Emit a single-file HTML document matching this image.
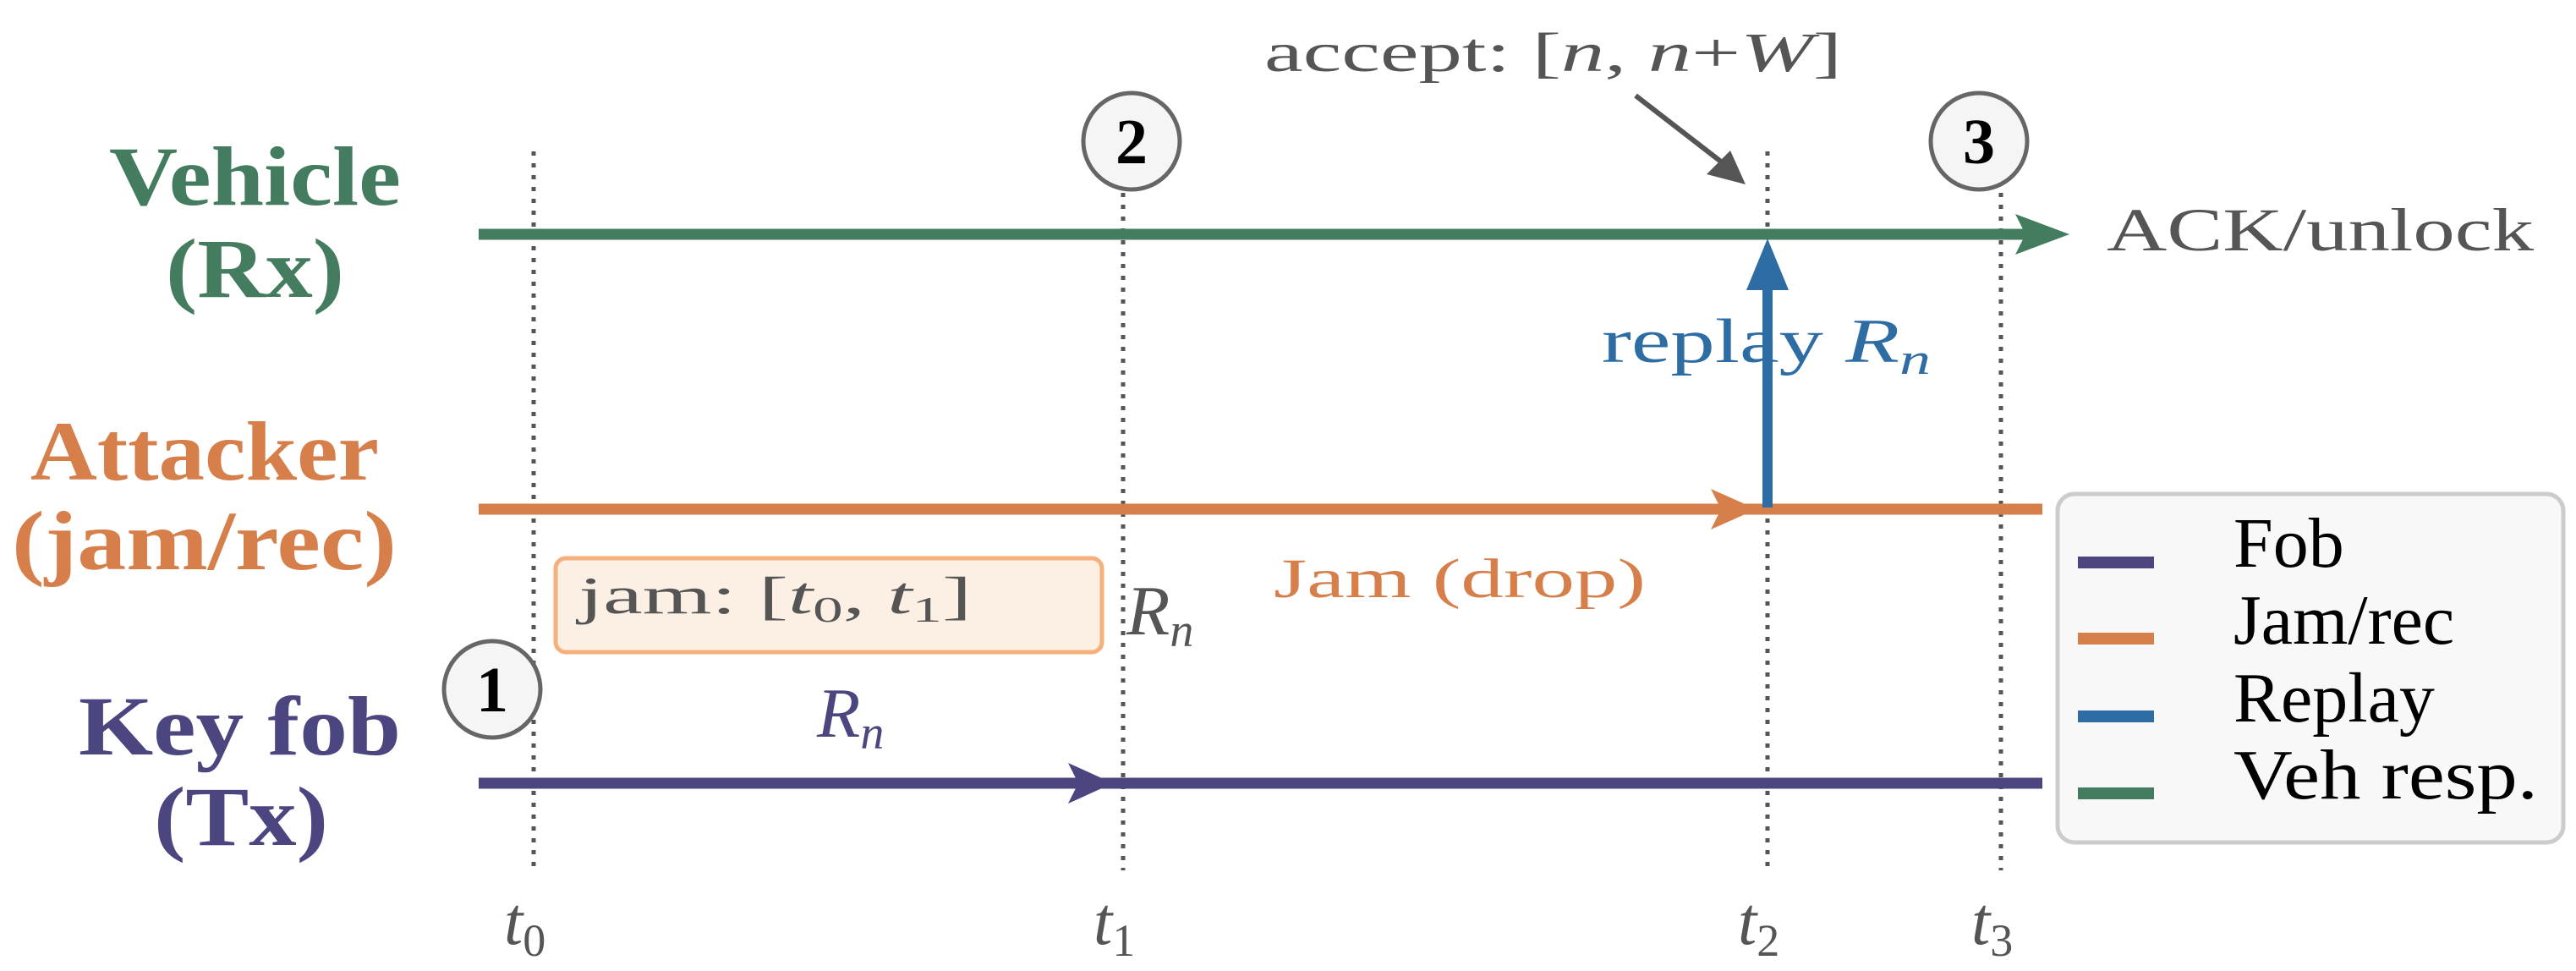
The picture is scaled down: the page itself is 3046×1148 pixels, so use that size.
<!DOCTYPE html>
<html><head><meta charset="utf-8"><style>
html,body{margin:0;padding:0;background:#fff;}
svg{display:block;}
text{font-family:"Liberation Serif",serif;}
</style></head><body>
<svg width="3046" height="1148" viewBox="0 0 3046 1148" xmlns="http://www.w3.org/2000/svg">
<g stroke="#555" stroke-width="5" stroke-dasharray="5 9">
<line x1="631" y1="179" x2="631" y2="1029"/>
<line x1="1328" y1="228" x2="1328" y2="1029"/>
<line x1="2090" y1="179" x2="2090" y2="1029"/>
<line x1="2366" y1="228" x2="2366" y2="1029"/>
</g>
<line x1="566" y1="277" x2="2395" y2="277" stroke="#437c5e" stroke-width="13"/>
<polygon points="2447,277 2383,253 2395,277 2383,301" fill="#437c5e"/>
<line x1="566" y1="602" x2="2415" y2="602" stroke="#d67f4a" stroke-width="13"/>
<polygon points="2077,602 2023,578 2035,602 2023,626" fill="#d67f4a"/>
<line x1="566" y1="926" x2="2415" y2="926" stroke="#4b4680" stroke-width="13"/>
<polygon points="1316,926 1263,902 1275,926 1263,950" fill="#4b4680"/>
<line x1="2090" y1="600" x2="2090" y2="335" stroke="#2e6da4" stroke-width="12"/>
<polygon points="2090,282 2065,343 2115,343" fill="#2e6da4"/>
<line x1="1934" y1="113" x2="2040" y2="195" stroke="#555" stroke-width="6"/>
<polygon points="2064,218 2018,206 2046,178" fill="#555"/>
<rect x="657" y="660" width="646" height="111" rx="12" fill="#fcf0e4" stroke="#f5b07c" stroke-width="5"/>
<text x="684" y="725" font-size="62" fill="#555" textLength="465" lengthAdjust="spacingAndGlyphs">jam: [<tspan font-style="italic">t</tspan><tspan font-size="42" dy="10">0</tspan><tspan dy="-10">, </tspan><tspan font-style="italic">t</tspan><tspan font-size="42" dy="10">1</tspan><tspan dy="-10">]</tspan></text>
<g stroke="#666" stroke-width="5" fill="#f5f5f5">
<circle cx="582" cy="815" r="57"/>
<circle cx="1338" cy="167" r="57"/>
<circle cx="2340" cy="167" r="57"/>
</g>
<g font-size="76" font-weight="bold" fill="#000" text-anchor="middle">
<text x="582" y="841">1</text>
<text x="1338" y="193">2</text>
<text x="2340" y="193">3</text>
</g>
<g font-size="100" font-weight="bold" lengthAdjust="spacingAndGlyphs">
<text x="129" y="242" fill="#437c5e" textLength="345" lengthAdjust="spacingAndGlyphs">Vehicle</text>
<text x="196" y="351" fill="#437c5e" textLength="211" lengthAdjust="spacingAndGlyphs">(Rx)</text>
<text x="36" y="567" fill="#d67f4a" textLength="412" lengthAdjust="spacingAndGlyphs">Attacker</text>
<text x="14" y="673" fill="#d67f4a" textLength="455" lengthAdjust="spacingAndGlyphs">(jam/rec)</text>
<text x="93" y="892" fill="#4b4680" textLength="381" lengthAdjust="spacingAndGlyphs">Key fob</text>
<text x="182" y="999" fill="#4b4680" textLength="206" lengthAdjust="spacingAndGlyphs">(Tx)</text>
</g>
<text x="1495" y="84" font-size="66" fill="#555" textLength="683" lengthAdjust="spacingAndGlyphs">accept: [<tspan font-style="italic">n</tspan>, <tspan font-style="italic">n</tspan>+<tspan font-style="italic">W</tspan>]</text>
<text x="2491" y="296" font-size="72" fill="#555" textLength="505" lengthAdjust="spacingAndGlyphs">ACK/unlock</text>
<text x="1894" y="428" font-size="74" fill="#2e6da4" textLength="389" lengthAdjust="spacingAndGlyphs">replay  <tspan font-style="italic">R</tspan><tspan font-size="52" font-style="italic" dy="14">n</tspan></text>
<text x="1506" y="706" font-size="66" fill="#d67f4a" textLength="440" lengthAdjust="spacingAndGlyphs">Jam (drop)</text>
<text x="1332" y="750" font-size="84" fill="#555" font-style="italic">R<tspan font-size="56" dy="14">n</tspan></text>
<text x="966" y="871" font-size="84" fill="#4b4680" font-style="italic">R<tspan font-size="56" dy="14">n</tspan></text>
<g font-size="80" fill="#555" font-style="italic">
<text x="596" y="1116">t<tspan font-size="54" font-style="normal" dy="14">0</tspan></text>
<text x="1293" y="1116">t<tspan font-size="54" font-style="normal" dy="14">1</tspan></text>
<text x="2055" y="1116">t<tspan font-size="54" font-style="normal" dy="14">2</tspan></text>
<text x="2331" y="1116">t<tspan font-size="54" font-style="normal" dy="14">3</tspan></text>
</g>
<rect x="2433" y="584" width="598" height="412" rx="20" fill="#f8f8f8" stroke="#ccc" stroke-width="5"/>
<g stroke-width="14">
<line x1="2457" y1="665" x2="2547" y2="665" stroke="#4b4680"/>
<line x1="2457" y1="755" x2="2547" y2="755" stroke="#d67f4a"/>
<line x1="2457" y1="847" x2="2547" y2="847" stroke="#2e6da4"/>
<line x1="2457" y1="938" x2="2547" y2="938" stroke="#437c5e"/>
</g>
<g font-size="84" fill="#000">
<text x="2641" y="670">Fob</text>
<text x="2641" y="761">Jam/rec</text>
<text x="2641" y="853">Replay</text>
<text x="2641" y="944" textLength="360" lengthAdjust="spacingAndGlyphs">Veh resp.</text>
</g>
</svg>
</body></html>
